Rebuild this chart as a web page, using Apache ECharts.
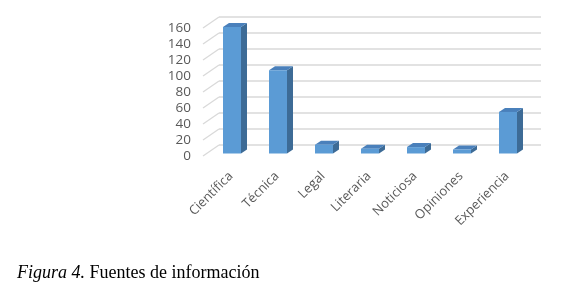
<!DOCTYPE html>
<html>
<head>
<meta charset="utf-8">
<script src="https://cdn.jsdelivr.net/npm/echarts@6/dist/echarts.min.js"></script>
<style>
html,body{margin:0;padding:0;background:#fff;}
#c{width:572px;height:295px;}
</style>
</head>
<body>
<div id="c"></div>
<script>
// ---- data ----
const categories = ['Científica', 'Técnica', 'Legal', 'Literaria', 'Noticiosa', 'Opiniones', 'Experiencia'];
const values = [158, 104, 11, 6, 8, 5, 52];
const yTicks = [0, 20, 40, 60, 80, 100, 120, 140, 160];
const captionItalic = 'Figura 4.';
const captionText = ' Fuentes de información';

// ---- style constants (pixels) ----
const WALL_DX = 16, WALL_DY = -11;      // depth of the back wall
const FACE_X0 = -3, FACE_X1 = 15;       // bar front face relative to category centre
const FACE_DY = -2.5;                   // bar front face lifted from the front floor
const BAR_DX = 6, BAR_DY = -4;          // bar depth
const FRONT = '#5b9bd5', SIDE = '#3d6b96', TOP = '#4a80bb';

const chart = echarts.init(document.getElementById('c'), null, {renderer: 'canvas'});

function wallItem(params, api) {
  const v = api.value(1);
  const p = api.coord([0, v]);
  const band = api.size([1, 0])[0];
  const last = api.coord([categories.length - 1, v]);
  const lx = p[0] - band / 2, rx = last[0] + band / 2, y = p[1];
  return {
    type: 'group',
    children: [
      {type: 'line', shape: {x1: lx, y1: y, x2: lx + WALL_DX, y2: y + WALL_DY},
       style: {stroke: '#d9d9d9', lineWidth: 1.3}},
      {type: 'line', shape: {x1: lx + WALL_DX, y1: y + WALL_DY, x2: rx + WALL_DX, y2: y + WALL_DY},
       style: {stroke: '#d9d9d9', lineWidth: 1.3}}
    ]
  };
}

function barItem(params, api) {
  const i = api.value(0), v = api.value(1);
  const b = api.coord([i, 0]);
  const t = api.coord([i, v]);
  const x0 = b[0] + FACE_X0, x1 = b[0] + FACE_X1;
  const yb = b[1] + FACE_DY, yt = t[1] + FACE_DY;
  return {
    type: 'group',
    children: [
      {type: 'polygon', shape: {points: [[x1, yt], [x1 + BAR_DX, yt + BAR_DY], [x1 + BAR_DX, yb + BAR_DY], [x1, yb]]},
       style: {fill: SIDE}},
      {type: 'polygon', shape: {points: [[x0, yt], [x1, yt], [x1 + BAR_DX, yt + BAR_DY], [x0 + BAR_DX, yt + BAR_DY]]},
       style: {fill: TOP}},
      {type: 'rect', shape: {x: x0, y: yt, width: x1 - x0, height: yb - yt},
       style: {fill: FRONT}}
    ]
  };
}

const hiddenAxis = {axisLine: {show: false}, axisTick: {show: false}, splitLine: {show: false}};

chart.setOption({
  animation: false,
  backgroundColor: '#fff',
  title: {
    text: '{i|' + captionItalic + '}' + captionText,
    left: 12, top: 259,
    textStyle: {
      fontFamily: 'Liberation Serif', fontSize: 18, fontWeight: 'normal', color: '#000',
      rich: {i: {fontFamily: 'Liberation Serif', fontSize: 18, fontStyle: 'italic', color: '#000'}}
    }
  },
  grid: [
    {left: 203, right: 47, top: 28, bottom: 139},
    {left: 208, right: 42, top: 28, bottom: 139}
  ],
  xAxis: [
    Object.assign({type: 'category', data: categories, gridIndex: 0, axisLabel: {show: false}}, hiddenAxis),
    Object.assign({type: 'category', data: categories, gridIndex: 1,
      axisLabel: {rotate: 45, margin: 18, color: '#595959', fontFamily: 'Open Sans', fontSize: 13, interval: 0}}, hiddenAxis)
  ],
  yAxis: [
    Object.assign({type: 'value', min: 0, max: 160, interval: 20, gridIndex: 0,
      axisLabel: {margin: 12, color: '#595959', fontFamily: 'Open Sans', fontSize: 13.5}}, hiddenAxis),
    Object.assign({type: 'value', min: 0, max: 160, interval: 20, gridIndex: 1,
      axisLabel: {show: false}}, hiddenAxis)
  ],
  series: [
    {type: 'custom', name: 'walls', silent: true, clip: false, z: 1, xAxisIndex: 0, yAxisIndex: 0,
     data: yTicks.map(v => [0, v]), renderItem: wallItem},
    {type: 'custom', name: 'bars', clip: false, z: 2, xAxisIndex: 0, yAxisIndex: 0,
     data: values.map((v, i) => [i, v]), renderItem: barItem}
  ]
});
</script>
</body>
</html>
